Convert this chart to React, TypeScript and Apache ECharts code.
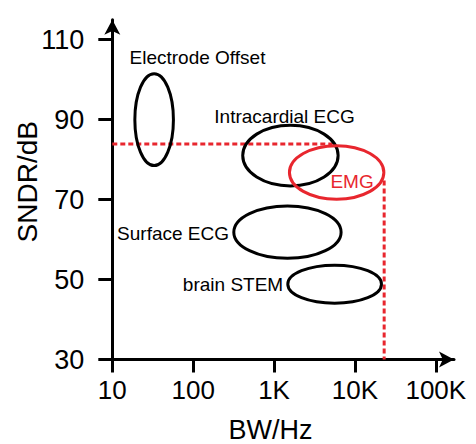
import React, { useEffect, useRef } from 'react';
import * as echarts from 'echarts';

// Axis ticks
const xTickValues = [10, 100, 1000, 10000, 100000];
const xTickLabels = ['10', '100', '1K', '10K', '100K'];
const yTickValues = [30, 50, 70, 90, 110];

// Signal regions (bandwidth range in Hz, SNDR range in dB)
const regionNames = ['Electrode Offset', 'Surface ECG', 'brain STEM', 'Intracardial ECG', 'EMG'];
const bwLow = [19, 318, 1480, 410, 1550];
const bwHigh = [57, 6750, 21300, 6200, 22800];
const sndrLow = [78.5, 55.3, 44.1, 73.4, 70.1];
const sndrHigh = [101.5, 68.4, 53.6, 88.6, 83.5];
// Label anchor points (Hz, dB)
const labelBw = [113, 56.4, 311, 1349, 9226];
const labelSndr = [105.6, 61.45, 48.8, 90.9, 74.56];

// Requirement lines (dashed)
const sndrLimitLine = [
  [10, 83.9],
  [5300, 83.9],
];
const bwLimitLine = [
  [23000, 74.8],
  [23000, 30],
];

const FONT = '"Liberation Sans", Arial, Helvetica, sans-serif';
const RED = '#e8262e';
const BLACK = '#000000';
const highlighted = 'EMG';

export default function App() {
  const ref = useRef<HTMLDivElement>(null);

  useEffect(() => {
    document.body.style.margin = '0';
    if (!ref.current) return;
    const chart = echarts.init(ref.current, undefined, { renderer: 'svg' });

    const regionData = regionNames.map((_, i) => [
      bwLow[i],
      bwHigh[i],
      sndrLow[i],
      sndrHigh[i],
      labelBw[i],
      labelSndr[i],
    ]);

    const option: any = {
      animation: false,
      backgroundColor: '#ffffff',
      grid: { left: 112.3, right: 22, top: 19.7, bottom: 84.5, containLabel: false },
      xAxis: {
        type: 'log',
        logBase: 10,
        min: 10,
        max: 168000,
        axisLine: {
          show: true,
          symbol: ['none', 'arrow'],
          symbolSize: [12, 15],
          lineStyle: { color: BLACK, width: 3 },
        },
        axisTick: {
          show: true,
          length: 13,
          inside: false,
          customValues: xTickValues,
          lineStyle: { color: BLACK, width: 3 },
        },
        axisLabel: {
          show: true,
          customValues: xTickValues,
          margin: 17,
          fontSize: 26,
          fontFamily: FONT,
          color: BLACK,
          formatter: (v: number) => {
            const idx = Math.round(Math.log10(v)) - 1;
            return xTickLabels[idx] ?? '';
          },
        },
        splitLine: { show: false },
        minorTick: { show: false },
      },
      yAxis: {
        type: 'value',
        min: 30,
        max: 115,
        axisLine: {
          show: true,
          symbol: ['none', 'arrow'],
          symbolSize: [12, 15],
          lineStyle: { color: BLACK, width: 3 },
        },
        axisTick: {
          show: true,
          length: 14,
          inside: false,
          customValues: yTickValues,
          lineStyle: { color: BLACK, width: 3 },
        },
        axisLabel: {
          show: true,
          customValues: yTickValues,
          margin: 28,
          fontSize: 27,
          fontFamily: FONT,
          color: BLACK,
        },
        splitLine: { show: false },
      },
      graphic: [
        {
          type: 'text',
          x: 27.3,
          y: 181.7,
          rotation: Math.PI / 2,
          style: {
            text: 'SNDR/dB',
            font: `28px ${FONT}`,
            fill: BLACK,
            align: 'center',
            verticalAlign: 'middle',
          },
        },
        {
          type: 'text',
          x: 270.5,
          y: 429.5,
          style: {
            text: 'BW/Hz',
            font: `27px ${FONT}`,
            fill: BLACK,
            align: 'center',
            verticalAlign: 'middle',
          },
        },
      ],
      series: [
        {
          type: 'line',
          data: sndrLimitLine,
          symbol: 'none',
          silent: true,
          lineStyle: { color: RED, width: 3, type: [5, 3] },
          z: 1,
        },
        {
          type: 'line',
          data: bwLimitLine,
          symbol: 'none',
          silent: true,
          lineStyle: { color: RED, width: 3, type: [5, 3] },
          z: 1,
        },
        {
          type: 'custom',
          z: 3,
          silent: true,
          encode: { x: [0, 1, 4], y: [2, 3, 5] },
          data: regionData,
          renderItem: (params: any, api: any) => {
            const i = params.dataIndex;
            const p1 = api.coord([api.value(0), api.value(2)]);
            const p2 = api.coord([api.value(1), api.value(3)]);
            const cx = (p1[0] + p2[0]) / 2;
            const cy = (p1[1] + p2[1]) / 2;
            const rx = Math.abs(p2[0] - p1[0]) / 2;
            const ry = Math.abs(p2[1] - p1[1]) / 2;
            const lp = api.coord([api.value(4), api.value(5)]);
            const color = regionNames[i] === highlighted ? RED : BLACK;
            return {
              type: 'group',
              children: [
                {
                  type: 'ellipse',
                  shape: { cx, cy, rx, ry },
                  style: { fill: 'none', stroke: color, lineWidth: 3 },
                },
                {
                  type: 'text',
                  x: lp[0],
                  y: lp[1],
                  style: {
                    text: regionNames[i],
                    fill: color,
                    font: `19px ${FONT}`,
                    align: 'center',
                    verticalAlign: 'middle',
                  },
                },
              ],
            };
          },
        },
      ],
    };

    chart.setOption(option);
    return () => {
      chart.dispose();
    };
  }, []);

  return <div ref={ref} style={{ width: 476, height: 444 }} />;
}
